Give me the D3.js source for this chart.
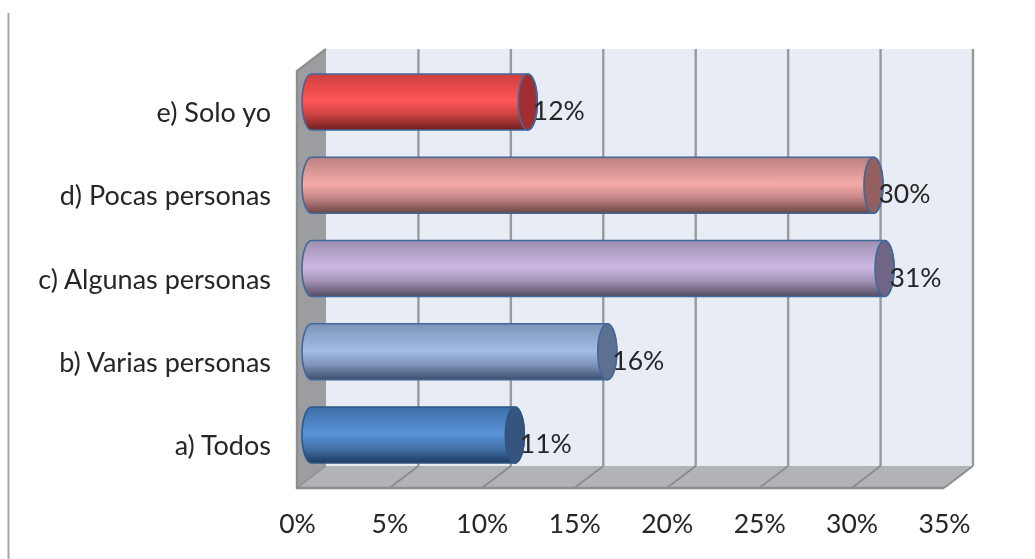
<!DOCTYPE html>
<html>
<head>
<meta charset="utf-8">
<script src="https://cdnjs.cloudflare.com/ajax/libs/d3/7.8.5/d3.min.js"></script>
<style>
    html, body { margin: 0; padding: 0; background: #fff; }
    svg { display: block; }
    text { font-family: Lato, "Open Sans", sans-serif; fill: #262626; }
</style>
</head>
<body>
<script>
(function () {
    var categories = ['a) Todos', 'b) Varias personas', 'c) Algunas personas', 'd) Pocas personas', 'e) Solo yo'];
    var values = [11, 16, 31, 30.4, 11.7];
    var mids = ['#5a94d8', '#a3bce6', '#cdb9e4', '#f7aaaa', '#ff5656'];
    var tops = ['#3d6ea8', '#7d93b8', '#9d8fb0', '#b98080', '#cf3f3f'];
    var bottoms = ['#1f3c60', '#3f4f6a', '#544d62', '#6a4545', '#6f1f20'];
    var caps = ['#34557f', '#5d6f92', '#6f6585', '#93605f', '#a32f30'];
    var ticks = [0, 5, 10, 15, 20, 25, 30, 35];

    var svg = d3.select('body').append('svg')
            .attr('width', 1035)
            .attr('height', 559),
        depthX = 29,
        depthY = 22,
        capRx = 9.5,
        floorY = 488,
        wallTop = 49;

    var x = d3.scaleLinear().domain([0, 35]).range([297, 944]);
    var y = d3.scaleBand().domain(categories).range([476.6, 60.4])
        .paddingInner(0.327).paddingOuter(0.1635);

    var defs = svg.append('defs');

    defs.append('filter').attr('id', 'soft')
        .append('feGaussianBlur').attr('stdDeviation', 0.5);

    categories.forEach(function (c, i) {
        var g = defs.append('linearGradient').attr('id', 'bar' + i)
            .attr('x1', 0).attr('y1', 0).attr('x2', 0).attr('y2', 1);
        g.append('stop').attr('offset', '0%').attr('stop-color', tops[i]);
        g.append('stop').attr('offset', '48%').attr('stop-color', mids[i]);
        g.append('stop').attr('offset', '72%').attr('stop-color', d3.interpolateRgb(mids[i], bottoms[i])(0.35));
        g.append('stop').attr('offset', '100%').attr('stop-color', bottoms[i]);
    });

    var root = svg.append('g').attr('filter', 'url(#soft)');

    // page rule on the left
    root.append('line')
        .attr('x1', 8.5).attr('x2', 8.5)
        .attr('y1', 13).attr('y2', 559)
        .attr('stroke', '#a6a6a6').attr('stroke-width', 2);

    // back wall
    root.append('rect')
        .attr('x', x(0) + depthX).attr('y', wallTop)
        .attr('width', x(35) - x(0)).attr('height', floorY - depthY - wallTop)
        .attr('fill', '#e8ecf5');

    // side wall
    root.append('path')
        .attr('d', d3.line()([
            [x(0), wallTop + depthY],
            [x(0) + depthX, wallTop],
            [x(0) + depthX, floorY - depthY],
            [x(0), floorY]
        ]) + 'Z')
        .attr('fill', '#9c9da0');

    // floor
    root.append('path')
        .attr('d', d3.line()([
            [x(0), floorY],
            [x(0) + depthX, floorY - depthY],
            [x(35) + depthX, floorY - depthY],
            [x(35), floorY]
        ]) + 'Z')
        .attr('fill', '#b1b3b6');

    // grid lines
    var grid = root.append('g');

    grid.selectAll('line.back')
        .data(ticks.slice(1))
        .enter().append('line')
        .attr('class', 'back')
        .attr('x1', function (d) { return x(d) + depthX; })
        .attr('x2', function (d) { return x(d) + depthX; })
        .attr('y1', wallTop)
        .attr('y2', floorY - depthY)
        .attr('stroke', '#989a9c')
        .attr('stroke-width', 2.4);

    grid.selectAll('line.floor')
        .data(ticks.slice(1))
        .enter().append('line')
        .attr('class', 'floor')
        .attr('x1', function (d) { return x(d) + depthX; })
        .attr('x2', function (d) { return x(d); })
        .attr('y1', floorY - depthY)
        .attr('y2', floorY)
        .attr('stroke', '#87898b')
        .attr('stroke-width', 1.6);

    // outer edges
    root.append('path')
        .attr('d', d3.line()([
            [x(0) + depthX, wallTop],
            [x(0), wallTop + depthY],
            [x(0), floorY],
            [x(35), floorY]
        ]))
        .attr('fill', 'none')
        .attr('stroke', '#8c8e90')
        .attr('stroke-width', 2.4);

    root.append('line')
        .attr('x1', x(0)).attr('x2', x(0) + depthX)
        .attr('y1', floorY).attr('y2', floorY - depthY)
        .attr('stroke', '#8c8e90')
        .attr('stroke-width', 1.4);

    // cylinders
    var mid = depthX / 2;

    function bodyPath(d, i) {
        var c = categories[i],
            top = y(c),
            h = y.bandwidth(),
            x0 = x(0) + mid,
            x1 = x(d) + mid;
        return 'M' + x0 + ',' + top +
            'L' + x1 + ',' + top +
            'A' + capRx + ',' + (h / 2) + ' 0 0 1 ' + x1 + ',' + (top + h) +
            'L' + x0 + ',' + (top + h) +
            'A' + capRx + ',' + (h / 2) + ' 0 0 1 ' + x0 + ',' + top + 'Z';
    }

    var bars = root.append('g').selectAll('g')
        .data(values)
        .enter().append('g');

    bars.append('path')
        .attr('d', function (d, i) { return bodyPath(d, i); })
        .attr('fill', function (d, i) { return 'url(#bar' + i + ')'; })
        .attr('stroke', function (d, i) { return i === 0 ? '#2f5684' : '#41679a'; })
        .attr('stroke-width', 1.6);

    bars.append('ellipse')
        .attr('cx', function (d) { return x(d) + mid; })
        .attr('cy', function (d, i) { return y(categories[i]) + y.bandwidth() / 2; })
        .attr('rx', capRx)
        .attr('ry', y.bandwidth() / 2)
        .attr('fill', function (d, i) { return caps[i]; })
        .attr('stroke', function (d, i) { return i === 0 ? '#2f5684' : '#41679a'; })
        .attr('stroke-width', 1.6);

    // value labels
    root.append('g').selectAll('text')
        .data(values)
        .enter().append('text')
        .attr('x', function (d) { return x(d) + mid + 5; })
        .attr('y', function (d, i) { return y(categories[i]) + y.bandwidth() / 2 + 18; })
        .attr('font-size', 26.5)
        .text(function (d) { return d3.format('.0f')(d) + '%'; });

    // axes
    var xAxis = d3.axisBottom(x)
        .tickValues(ticks)
        .tickSize(0)
        .tickPadding(0)
        .tickFormat(function (d) { return d + '%'; });

    var xg = root.append('g')
        .attr('transform', 'translate(0,' + 514 + ')')
        .call(xAxis);
    xg.select('.domain').remove();
    xg.selectAll('text')
        .style('font-family', 'Lato, "Open Sans", sans-serif')
        .style('font-size', '26.5px')
        .attr('dy', '0.71em');

    var yAxis = d3.axisLeft(y).tickSize(0).tickPadding(0);

    var yg = root.append('g')
        .attr('transform', 'translate(271,11.5)')
        .call(yAxis);
    yg.select('.domain').remove();
    yg.selectAll('text')
        .style('font-family', 'Lato, "Open Sans", sans-serif')
        .style('font-size', '27px');
}());
</script>
</body>
</html>
